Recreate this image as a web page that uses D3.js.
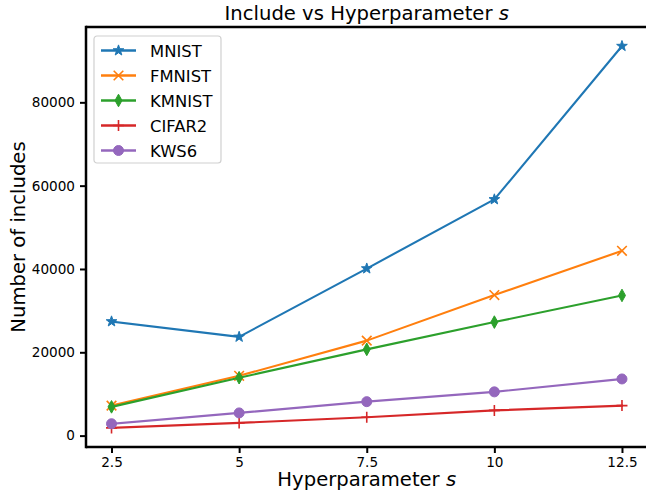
<!DOCTYPE html>
<html>
<head>
<meta charset="utf-8">
<script src="https://cdn.jsdelivr.net/npm/d3@7"></script>
<style>
  body { margin: 0; background: #fff; }
  svg { display: block; font-family: "DejaVu Sans", sans-serif; }
</style>
</head>
<body>
<svg id="chart" width="646" height="491"></svg>
<script>
// values
const sValues = [2.5, 5, 7.5, 10, 12.5];
const xTickLabels = ["2.5", "5", "7.5", "10", "12.5"];
const yTickValues = [0, 20000, 40000, 60000, 80000];

const mnist  = [27400, 23700, 40100, 56700, 93500];
const fmnist = [7200, 14350, 22800, 33750, 44350];
const kmnist = [6900, 13900, 20700, 27250, 33650];
const cifar2 = [1850, 3050, 4400, 6050, 7200];
const kws6   = [2850, 5450, 8150, 10500, 13600];

const seriesNames  = ["MNIST", "FMNIST", "KMNIST", "CIFAR2", "KWS6"];
const seriesValues = [mnist, fmnist, kmnist, cifar2, kws6];
const seriesColors = ["#1f77b4", "#ff7f0e", "#2ca02c", "#d62728", "#9467bd"];
const seriesMarkers = ["star", "x", "thin_diamond", "plus", "circle"];

const width = 646, height = 491;
const plot = { left: 86, right: 647.5, top: 27, bottom: 447 };

const svg = d3.select("#chart");

// matplotlib-like 5% margins
function padded(ext) {
  const m = (ext[1] - ext[0]) * 0.05;
  return [ext[0] - m, ext[1] + m];
}

const x = d3.scaleLinear()
  .domain(padded(d3.extent(sValues)))
  .range([plot.left, plot.right]);

const allY = seriesValues.flat();
const y = d3.scaleLinear()
  .domain(padded(d3.extent(allY)))
  .range([plot.bottom, plot.top]);

// marker shapes drawn around (0,0)
function markerPath(kind) {
  if (kind === "star") {
    const R = 5.6, r = R * 0.4;
    const pts = d3.range(10).map(i => {
      const a = -Math.PI / 2 + i * Math.PI / 5;
      const rr = i % 2 ? r : R;
      return [rr * Math.cos(a), rr * Math.sin(a)];
    });
    return "M" + pts.map(p => p.join(",")).join("L") + "Z";
  }
  if (kind === "thin_diamond") return "M0,-6.3L3.5,0L0,6.3L-3.5,0Z";
  if (kind === "circle") return d3.symbol(d3.symbolCircle, Math.PI * 5 * 5)();
  if (kind === "x") return "M-4.8,-4.8L4.8,4.8M-4.8,4.8L4.8,-4.8";
  if (kind === "plus") return "M-5.5,0L5.5,0M0,-5.5L0,5.5";
}
function isStroked(kind) { return kind === "x" || kind === "plus"; }

function drawMarker(g, kind, color) {
  g.append("path")
    .attr("d", markerPath(kind))
    .attr("fill", isStroked(kind) ? "none" : color)
    .attr("stroke", color)
    .attr("stroke-width", isStroked(kind) ? 1.6 : 1);
}

// series
const line = d3.line().x((d, i) => x(sValues[i])).y(d => y(d));
const plotArea = svg.append("g");

seriesValues.forEach((vals, k) => {
  const g = plotArea.append("g");
  g.append("path")
    .datum(vals)
    .attr("d", line)
    .attr("fill", "none")
    .attr("stroke", seriesColors[k])
    .attr("stroke-width", 2.1)
    .attr("stroke-linejoin", "round")
    .attr("stroke-linecap", "square");
  vals.forEach((v, i) => {
    const mg = g.append("g").attr("transform", `translate(${x(sValues[i])},${y(v)})`);
    drawMarker(mg, seriesMarkers[k], seriesColors[k]);
  });
});

// axes
const xAxis = d3.axisBottom(x)
  .tickValues(sValues)
  .tickFormat((d, i) => xTickLabels[i])
  .tickSize(6).tickSizeOuter(0).tickPadding(4);
const yAxis = d3.axisLeft(y)
  .tickValues(yTickValues)
  .tickFormat(d3.format("d"))
  .tickSize(6).tickSizeOuter(0).tickPadding(5);

const gx = svg.append("g").attr("transform", `translate(0,${plot.bottom})`).call(xAxis);
const gy = svg.append("g").attr("transform", `translate(${plot.left},0)`).call(yAxis);
[gx, gy].forEach(g => {
  g.select(".domain").remove();
  g.selectAll(".tick line").attr("stroke", "#000").attr("stroke-width", 2);
  g.selectAll(".tick text")
    .attr("fill", "#000")
    .style("font-family", "DejaVu Sans")
    .style("font-size", "13.6px");
});
gx.selectAll(".tick text").attr("dy", "0.75em");

// spines (right one falls outside the picture)
const spines = [
  [plot.left, plot.top, width + 2, plot.top],
  [plot.left, plot.bottom, width + 2, plot.bottom],
  [plot.left, plot.top - 1.25, plot.left, plot.bottom + 1.25]
];
svg.append("g").selectAll("line").data(spines).join("line")
  .attr("x1", d => d[0]).attr("y1", d => d[1])
  .attr("x2", d => d[2]).attr("y2", d => d[3])
  .attr("stroke", "#000").attr("stroke-width", 2.5);

// legend
const legend = svg.append("g").attr("transform", "translate(94,36)");
legend.append("rect")
  .attr("width", 127).attr("height", 127)
  .attr("rx", 3)
  .attr("fill", "#fff").attr("fill-opacity", 0.8)
  .attr("stroke", "#d0d0d0").attr("stroke-width", 1.2);
seriesNames.forEach((name, k) => {
  const row = legend.append("g").attr("transform", `translate(0,${14.5 + k * 25})`);
  row.append("line")
    .attr("x1", 7).attr("x2", 42).attr("y1", 0).attr("y2", 0)
    .attr("stroke", seriesColors[k]).attr("stroke-width", 2.6);
  drawMarker(row.append("g").attr("transform", "translate(24.5,0)"), seriesMarkers[k], seriesColors[k]);
  row.append("text")
    .attr("x", 56).attr("y", 6)
    .style("font-size", "16.4px")
    .attr("fill", "#000")
    .text(name);
});

// title and labels
const midX = (plot.left + plot.right) / 2;
const title = svg.append("text")
  .attr("x", midX).attr("y", 20)
  .attr("text-anchor", "middle")
  .style("font-size", "19.6px");
title.append("tspan").text("Include vs Hyperparameter ");
title.append("tspan").style("font-style", "italic").text("s");

const xl = svg.append("text")
  .attr("x", midX).attr("y", 485.5)
  .attr("text-anchor", "middle")
  .style("font-size", "19.6px");
xl.append("tspan").text("Hyperparameter ");
xl.append("tspan").style("font-style", "italic").text("s");

svg.append("text")
  .attr("transform", `translate(25,${(plot.top + plot.bottom) / 2}) rotate(-90)`)
  .attr("text-anchor", "middle")
  .style("font-size", "19.6px")
  .text("Number of includes");
</script>
</body>
</html>
